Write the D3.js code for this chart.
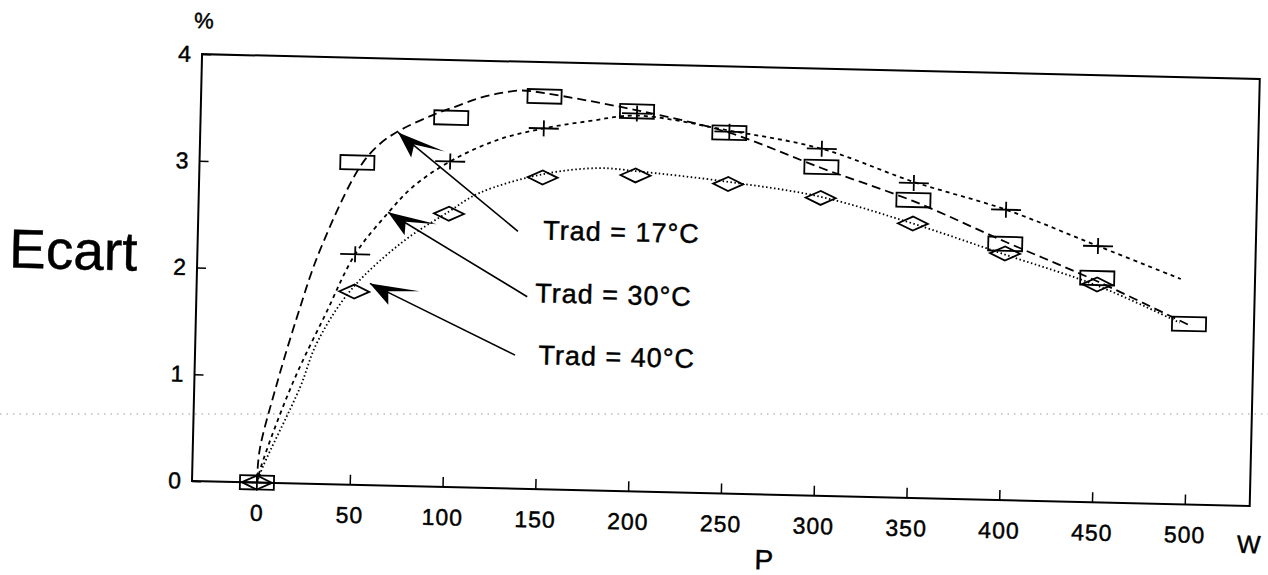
<!DOCTYPE html>
<html>
<head>
<meta charset="utf-8">
<script src="https://cdn.jsdelivr.net/npm/d3@7"></script>
<style>
  body { margin: 0; background: #fff; }
  svg { display: block; }
  text { font-family: "Liberation Sans", Arial, Helvetica, sans-serif; fill: #000; stroke: #000; stroke-width: 0.45px; }
</style>
</head>
<body>
<div id="chart"></div>
<script>
// ---- data ----
const powerTicks = [0, 50, 100, 150, 200, 250, 300, 350, 400, 450, 500];
const ecartTicks = [0, 1, 2, 3, 4];

// measured points (markers)
const p17 = [0, 50, 100, 150, 200, 250, 300, 350, 400, 450, 500];
const e17 = [0, 3.02, 3.46, 3.68, 3.56, 3.38, 3.08, 2.79, 2.40, 2.10, 1.69];
const p30 = [0, 50, 100, 150, 200, 250, 300, 350, 400, 450];
const e30 = [0, 2.16, 3.05, 3.38, 3.54, 3.39, 3.25, 2.95, 2.72, 2.40];
const p40 = [0, 50, 100, 150, 200, 250, 300, 350, 400, 450];
const e40 = [0, 1.81, 2.56, 2.92, 2.96, 2.90, 2.79, 2.57, 2.31, 2.04];

// fitted curves
const fitP17 = [0, 1, 8.6, 19.5, 31, 51.5, 62, 72.6, 90, 103, 115, 126, 138, 150, 200, 250, 300, 350, 400, 450, 500];
const fitE17 = [0, 0.3, 0.87, 1.56, 2.19, 2.98, 3.2, 3.33, 3.48, 3.57, 3.65, 3.70, 3.73, 3.71, 3.57, 3.38, 3.07, 2.78, 2.42, 2.07, 1.68];
const fitP30 = [0, 2, 18, 35, 50, 67, 80, 100, 125, 150, 175, 200, 250, 300, 350, 400, 450, 495];
const fitE30 = [0, 0.15, 0.94, 1.6, 2.16, 2.55, 2.80, 3.05, 3.26, 3.38, 3.46, 3.52, 3.40, 3.25, 2.96, 2.72, 2.40, 2.11];
const fitP40 = [0, 3, 22, 30.5, 48, 75, 100, 116, 150, 180, 200, 250, 300, 350, 400, 450, 495];
const fitE40 = [0, 0.15, 0.9, 1.32, 1.82, 2.28, 2.58, 2.76, 2.95, 3.02, 3.0, 2.92, 2.8, 2.57, 2.3, 2.03, 1.70];

// annotations: arrow tip, arrow tail, label start (data units)
const labels = ["Trad = 17°C", "Trad = 30°C", "Trad = 40°C"];
const arrowTips = [[71.6, 3.31], [67.2, 2.56], [58.3, 1.89]];
const arrowTails = [[137.4, 2.41], [143.2, 1.80], [137.4, 1.25]];
const labelPos = [[151, 2.34], [147.5, 1.75], [150, 1.17]];

// ---- layout ----
const width = 1268, height = 575;
const plotLeft = 192, plotTop = 54;
const plotW = 1058, plotH = 427;
const tilt = 1.35; // the scan is slightly rotated

const svg = d3.select("#chart").append("svg")
  .attr("width", width)
  .attr("height", height);

// faint dotted scan line across the page
svg.append("line")
  .attr("x1", 0).attr("x2", width)
  .attr("y1", 414).attr("y2", 414)
  .style("stroke", "#999")
  .style("stroke-width", 1)
  .style("stroke-dasharray", "1.5,5");

const g = svg.append("g")
  .attr("transform", `rotate(${tilt}, ${plotLeft}, ${plotTop + plotH}) translate(${plotLeft}, ${plotTop})`);

const x = d3.scaleLinear().domain([-35, 535]).range([0, plotW]);
const y = d3.scaleLinear().domain([0, 4]).range([plotH, 0]);

// axes (ticks point inwards)
const xAxis = g.append("g")
  .attr("transform", `translate(0, ${plotH})`)
  .call(d3.axisBottom(x).tickValues(powerTicks).tickFormat(d3.format("d"))
    .tickSize(-10).tickSizeOuter(0).tickPadding(22));
const yAxis = g.append("g")
  .call(d3.axisLeft(y).tickValues(ecartTicks).tickFormat(d3.format("d"))
    .tickSize(-9).tickSizeOuter(0).tickPadding(10));

[xAxis, yAxis].forEach(a => {
  a.select(".domain").remove();
  a.selectAll(".tick line").style("stroke", "#000").style("stroke-width", 1.5);
  a.selectAll(".tick text")
    .style("font-size", "23px")
    .style("letter-spacing", "1px")
    .style("font-family", '"Liberation Sans", Arial, sans-serif')
    .style("fill", "#000");
});

// frame
g.append("rect")
  .attr("width", plotW)
  .attr("height", plotH)
  .style("fill", "none")
  .style("stroke", "#000")
  .style("stroke-width", 2);

// curves
const line = d3.line()
  .x(d => x(d[0]))
  .y(d => y(d[1]))
  .curve(d3.curveCatmullRom.alpha(0.5));

const curves = [
  { p: fitP17, e: fitE17, dash: "9,5" },
  { p: fitP30, e: fitE30, dash: "4,4" },
  { p: fitP40, e: fitE40, dash: "1.5,2.5" }
];

curves.forEach(c => {
  g.append("path")
    .datum(c.p.map((v, i) => [v, c.e[i]]))
    .attr("d", line)
    .style("fill", "none")
    .style("stroke", "#000")
    .style("stroke-width", 1.8)
    .style("stroke-dasharray", c.dash);
});

// markers
const markerShapes = {
  box: "M-17,-7H17V7H-17Z",
  cross: "M-15,0H15M0,-8V8",
  diamond: "M-15,0L0,-7L15,0L0,7Z"
};

const markerSets = [
  { p: p17, e: e17, shape: "box" },
  { p: p30, e: e30, shape: "cross" },
  { p: p40, e: e40, shape: "diamond" }
];

markerSets.forEach(m => {
  g.selectAll(null)
    .data(m.p.map((v, i) => [v, m.e[i]]))
    .enter()
    .append("path")
    .attr("transform", d => `translate(${x(d[0])}, ${y(d[1])})`)
    .attr("d", markerShapes[m.shape])
    .style("fill", "none")
    .style("stroke", "#000")
    .style("stroke-width", 1.8);
});

// arrows + labels
labels.forEach((txt, i) => {
  const tx = x(arrowTips[i][0]), ty = y(arrowTips[i][1]);
  const ex = x(arrowTails[i][0]), ey = y(arrowTails[i][1]);
  const ang = Math.atan2(ey - ty, ex - tx) * 180 / Math.PI;

  g.append("line")
    .attr("x1", tx).attr("y1", ty)
    .attr("x2", ex).attr("y2", ey)
    .style("stroke", "#000")
    .style("stroke-width", 1.6);

  g.append("path")
    .attr("transform", `translate(${tx}, ${ty}) rotate(${ang})`)
    .attr("d", "M0,0L48,-15L20,-1L26,11Z")
    .style("fill", "#000");

  g.append("text")
    .attr("x", x(labelPos[i][0]))
    .attr("y", y(labelPos[i][1]))
    .style("font-size", "27px")
    .style("letter-spacing", "1px")
    .text(txt);
});

// axis titles
g.append("text")
  .attr("x", 1).attr("y", -26)
  .attr("text-anchor", "middle")
  .style("font-size", "22px")
  .text("%");

g.append("text")
  .attr("x", -124).attr("y", 218)
  .attr("text-anchor", "middle")
  .style("font-size", "55px")
  .text("Ecart");

g.append("text")
  .attr("x", x(274)).attr("y", plotH + 75)
  .attr("text-anchor", "middle")
  .style("font-size", "28px")
  .text("P");

g.append("text")
  .attr("x", plotW).attr("y", plotH + 47)
  .attr("text-anchor", "middle")
  .style("font-size", "25px")
  .text("W");
</script>
</body>
</html>
